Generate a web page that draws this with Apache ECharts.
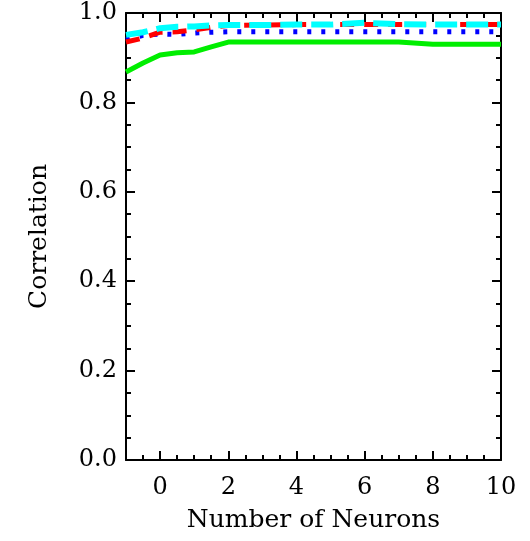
<!DOCTYPE html>
<html>
<head>
<meta charset="utf-8">
<script src="https://cdn.jsdelivr.net/npm/echarts@6/dist/echarts.min.js"></script>
<style>
  html, body { margin: 0; padding: 0; background: #fff; }
  #main { width: 530px; height: 541px; }
</style>
</head>
<body>
<div id="main"></div>
<script>
// x values (number of neurons)
var xs = [-1, -0.5, 0, 0.5, 1, 1.5, 2, 3, 4, 5, 6, 7, 8, 9, 10];
var greenVals = [0.868, 0.888, 0.906, 0.911, 0.913, 0.924, 0.935, 0.935, 0.935, 0.935, 0.935, 0.935, 0.930, 0.930, 0.930];
var redVals   = [0.935, 0.944, 0.957, 0.958, 0.962, 0.968, 0.972, 0.973, 0.974, 0.974, 0.974, 0.974, 0.974, 0.974, 0.974];
var blueVals  = [0.940, 0.950, 0.953, 0.952, 0.955, 0.957, 0.958, 0.958, 0.958, 0.958, 0.958, 0.958, 0.958, 0.958, 0.958];
var cyanVals  = [0.951, 0.957, 0.966, 0.969, 0.970, 0.972, 0.973, 0.973, 0.974, 0.974, 0.978, 0.975, 0.974, 0.974, 0.974];
var xLabels = [0, 2, 4, 6, 8, 10];

function pairs(vals) {
  return xs.map(function (x, i) { return [x, vals[i]]; });
}

var font = 'DejaVu Serif';
var lineBlack = { show: true, onZero: false, lineStyle: { color: '#000', width: 2 } };
var tickStyle = { color: '#000', width: 2 };

var chart = echarts.init(document.getElementById('main'));
var option = {
  animation: false,
  grid: { left: 126, right: 29, top: 13, bottom: 81 },
  xAxis: [
    {
      type: 'value', position: 'bottom', min: -1, max: 10,
      name: 'Number of Neurons', nameLocation: 'middle', nameGap: 48,
      nameTextStyle: { fontFamily: font, fontSize: 25, color: '#000' },
      axisLine: lineBlack,
      axisTick: { show: true, inside: true, length: 9, customValues: xLabels, lineStyle: tickStyle },
      axisLabel: { show: true, customValues: xLabels, margin: 16, fontFamily: font, fontSize: 24, color: '#000' },
      splitLine: { show: false }
    },
    {
      type: 'value', position: 'bottom', min: -1, max: 10, interval: 0.5,
      axisLine: { show: false, onZero: false },
      axisTick: { show: true, inside: true, length: 5, lineStyle: tickStyle },
      axisLabel: { show: false },
      splitLine: { show: false }
    },
    {
      type: 'value', position: 'top', min: -1, max: 10,
      axisLine: lineBlack,
      axisTick: { show: true, inside: true, length: 9, customValues: xLabels, lineStyle: tickStyle },
      axisLabel: { show: false },
      splitLine: { show: false }
    },
    {
      type: 'value', position: 'top', min: -1, max: 10, interval: 0.5,
      axisLine: { show: false, onZero: false },
      axisTick: { show: true, inside: true, length: 5, lineStyle: tickStyle },
      axisLabel: { show: false },
      splitLine: { show: false }
    }
  ],
  yAxis: [
    {
      type: 'value', position: 'left', min: 0, max: 1, interval: 0.2,
      name: 'Correlation', nameLocation: 'middle', nameGap: 74,
      nameTextStyle: { fontFamily: font, fontSize: 25, color: '#000' },
      axisLine: lineBlack,
      axisTick: { show: true, inside: true, length: 9, lineStyle: tickStyle },
      minorTick: { show: true, splitNumber: 4, length: 5, lineStyle: tickStyle },
      axisLabel: { margin: 9, fontFamily: font, fontSize: 24, color: '#000',
        formatter: function (v) { return v.toFixed(1); } },
      splitLine: { show: false }
    },
    {
      type: 'value', position: 'right', min: 0, max: 1, interval: 0.2,
      axisLine: lineBlack,
      axisTick: { show: true, inside: true, length: 9, lineStyle: tickStyle },
      minorTick: { show: true, splitNumber: 4, length: 5, lineStyle: tickStyle },
      axisLabel: { show: false },
      splitLine: { show: false }
    }
  ],
  series: [
    {
      name: 'green', type: 'line', data: pairs(greenVals), showSymbol: false,
      lineStyle: { color: '#00ee00', width: 5, type: 'solid' }
    },
    {
      name: 'blue', type: 'line', data: pairs(blueVals), showSymbol: false,
      lineStyle: { color: '#0000ff', width: 5, type: [4, 10] }
    },
    {
      name: 'red', type: 'line', data: pairs(redVals), showSymbol: false,
      lineStyle: { color: '#ff0000', width: 5, type: [14, 10] }
    },
    {
      name: 'cyan', type: 'line', data: pairs(cyanVals), showSymbol: false,
      lineStyle: { color: '#00ffff', width: 6, type: [22, 9] }
    }
  ]
};
chart.setOption(option);
</script>
</body>
</html>
